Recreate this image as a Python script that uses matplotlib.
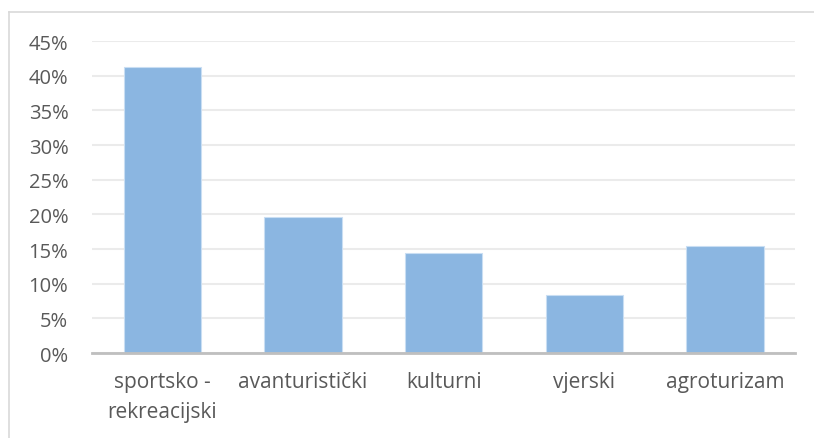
import matplotlib.pyplot as plt
from matplotlib.lines import Line2D
from matplotlib.ticker import FuncFormatter, MultipleLocator

categories = ['sportsko -\nrekreacijski', 'avanturistički', 'kulturni', 'vjerski', 'agroturizam']
shares = [0.413, 0.196, 0.145, 0.084, 0.155]

plt.rcParams['font.family'] = ['Open Sans', 'DejaVu Sans']

fig = plt.figure(figsize=(8.14, 4.39), dpi=100)
ax = fig.add_axes([0.113, 0.1936, 0.864, 0.7104])

ax.bar(range(len(categories)), shares, width=0.55, color='#8bb6e1',
       edgecolor='#c9def3', linewidth=0.8, zorder=3)

ax.set_xlim(-0.5, len(categories) - 0.5)
ax.set_ylim(0, 0.45)
ax.yaxis.set_major_locator(MultipleLocator(0.05))
ax.yaxis.set_major_formatter(FuncFormatter(lambda v, _: f'{v * 100:.0f}%'))
ax.grid(axis='y', color='#ebebeb', linewidth=1.5, zorder=0)

ax.set_xticks(range(len(categories)))
ax.set_xticklabels(categories, fontsize=15, color='#595959', linespacing=1.55)
ax.tick_params(axis='y', labelsize=14.5, labelcolor='#595959', length=0, pad=17)
ax.tick_params(axis='x', length=0, pad=13)

for side in ['top', 'right', 'left']:
    ax.spines[side].set_visible(False)
ax.spines['bottom'].set_color('#bfbfbf')
ax.spines['bottom'].set_linewidth(2)
ax.spines['bottom'].set_zorder(4)

# chart frame: only the top and left edges show in the crop
fx, fy = 8.5 / 814, 1 - 13 / 439
fig.add_artist(Line2D([fx, 1], [fy, fy], transform=fig.transFigure,
                      color='#d9d9d9', linewidth=1.2))
fig.add_artist(Line2D([fx, fx], [0, fy], transform=fig.transFigure,
                      color='#d9d9d9', linewidth=1.2))

fig.savefig('out.png', dpi=100)
